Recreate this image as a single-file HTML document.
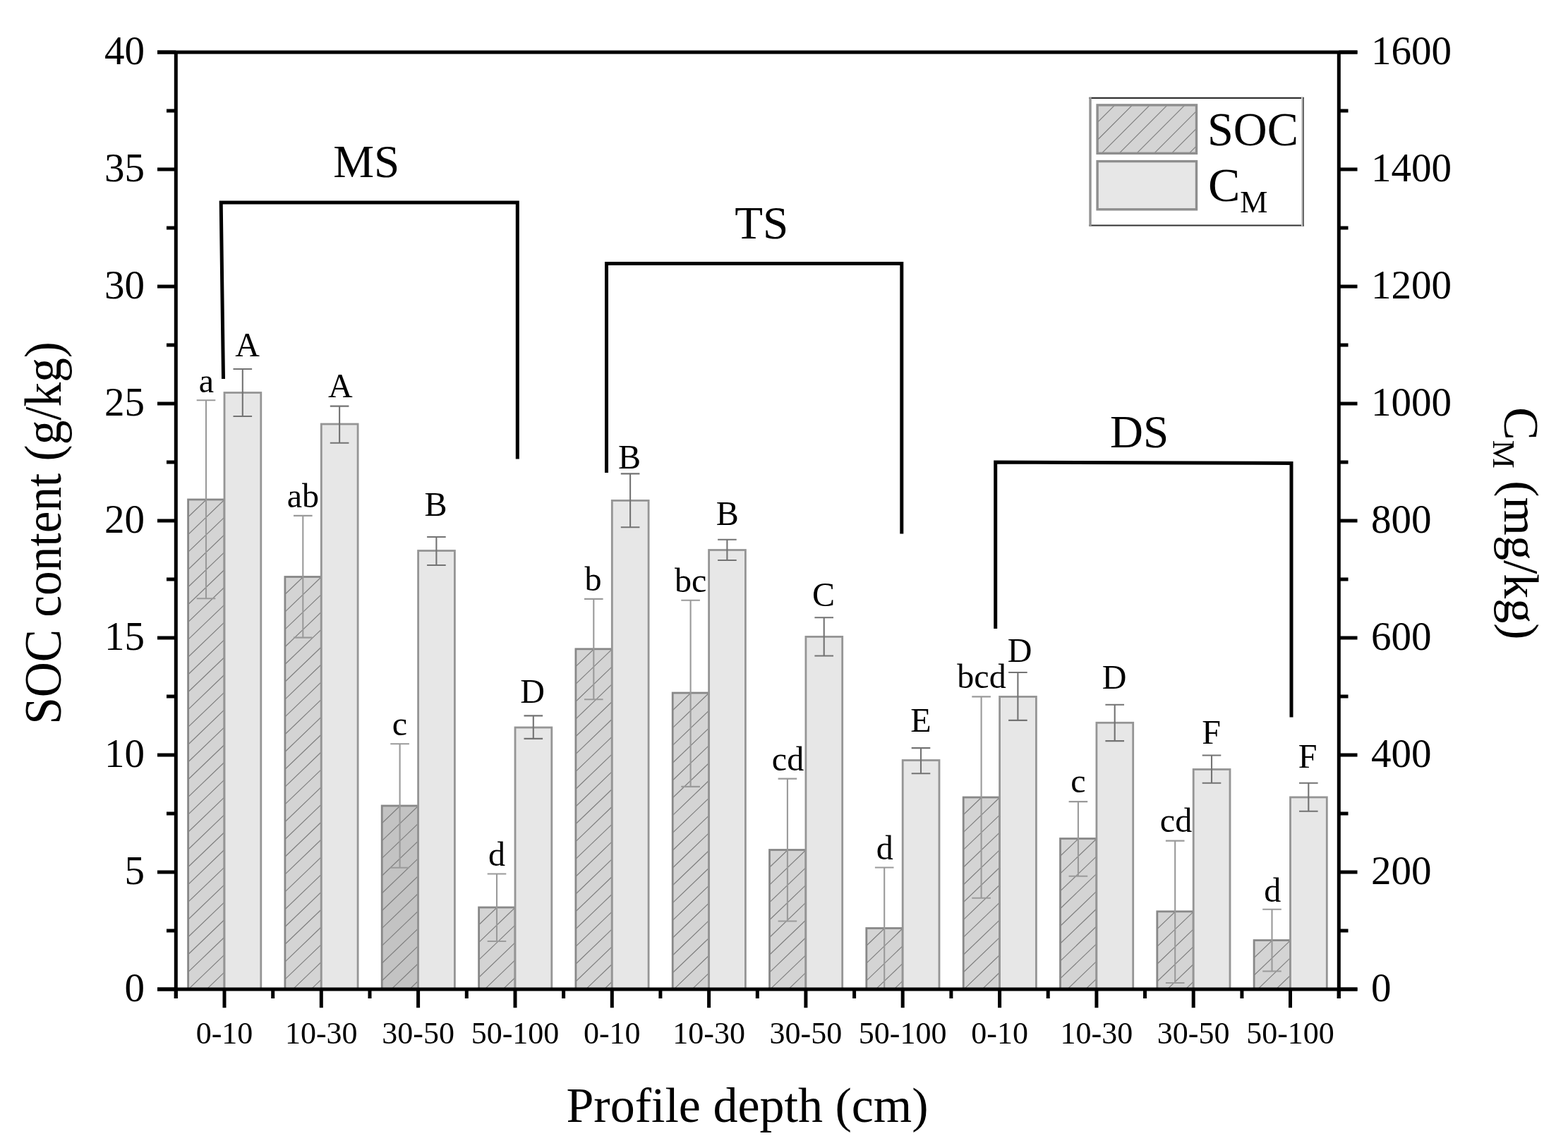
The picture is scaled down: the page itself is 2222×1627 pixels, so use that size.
<!DOCTYPE html>
<html lang="en"><head><meta charset="utf-8"><title>SOC content and CM by profile depth</title>
<style>
html,body{margin:0;padding:0;background:#fff;width:2222px;height:1627px;overflow:hidden;}
svg{display:block;}
text{font-family:"Liberation Serif", "Times New Roman", Times, serif;fill:#000;}
</style></head><body>
<svg width="2222" height="1627" viewBox="0 0 2222 1627">
<rect width="2222" height="1627" fill="#fff"/>
<rect x="266.6" y="708.0" width="51.4" height="694.1" fill="#d4d4d4"/>
<path d="M266.60 732.80L292.43 708.00M266.60 757.60L318.00 708.26M266.60 782.40L318.00 733.06M266.60 807.20L318.00 757.86M266.60 832.00L318.00 782.66M266.60 856.80L318.00 807.46M266.60 881.60L318.00 832.26M266.60 906.40L318.00 857.06M266.60 931.20L318.00 881.86M266.60 956.00L318.00 906.66M266.60 980.80L318.00 931.46M266.60 1005.60L318.00 956.26M266.60 1030.40L318.00 981.06M266.60 1055.20L318.00 1005.86M266.60 1080.00L318.00 1030.66M266.60 1104.80L318.00 1055.46M266.60 1129.60L318.00 1080.26M266.60 1154.40L318.00 1105.06M266.60 1179.20L318.00 1129.86M266.60 1204.00L318.00 1154.66M266.60 1228.80L318.00 1179.46M266.60 1253.60L318.00 1204.26M266.60 1278.40L318.00 1229.06M266.60 1303.20L318.00 1253.86M266.60 1328.00L318.00 1278.66M266.60 1352.80L318.00 1303.46M266.60 1377.60L318.00 1328.26M266.91 1402.10L318.00 1353.06M292.75 1402.10L318.00 1377.86" stroke="#7f7f7f" stroke-width="1.2" fill="none"/>
<rect x="266.6" y="708.0" width="51.4" height="694.1" fill="none" stroke="#888888" stroke-width="2.8"/>
<rect x="318.0" y="556.5" width="51.8" height="845.6" fill="#e7e7e7" stroke="#959595" stroke-width="2.8"/>
<rect x="403.9" y="817.5" width="51.4" height="584.6" fill="#d4d4d4"/>
<path d="M403.92 842.30L429.75 817.50M403.92 867.10L455.32 817.76M403.92 891.90L455.32 842.56M403.92 916.70L455.32 867.36M403.92 941.50L455.32 892.16M403.92 966.30L455.32 916.96M403.92 991.10L455.32 941.76M403.92 1015.90L455.32 966.56M403.92 1040.70L455.32 991.36M403.92 1065.50L455.32 1016.16M403.92 1090.30L455.32 1040.96M403.92 1115.10L455.32 1065.76M403.92 1139.90L455.32 1090.56M403.92 1164.70L455.32 1115.36M403.92 1189.50L455.32 1140.16M403.92 1214.30L455.32 1164.96M403.92 1239.10L455.32 1189.76M403.92 1263.90L455.32 1214.56M403.92 1288.70L455.32 1239.36M403.92 1313.50L455.32 1264.16M403.92 1338.30L455.32 1288.96M403.92 1363.10L455.32 1313.76M403.92 1387.90L455.32 1338.56M414.96 1402.10L455.32 1363.36M440.80 1402.10L455.32 1388.16" stroke="#7f7f7f" stroke-width="1.2" fill="none"/>
<rect x="403.9" y="817.5" width="51.4" height="584.6" fill="none" stroke="#888888" stroke-width="2.8"/>
<rect x="455.3" y="601.0" width="51.8" height="801.1" fill="#e7e7e7" stroke="#959595" stroke-width="2.8"/>
<rect x="541.2" y="1142.0" width="51.4" height="260.1" fill="#c3c3c3"/>
<path d="M541.24 1166.80L567.07 1142.00M541.24 1191.60L592.64 1142.26M541.24 1216.40L592.64 1167.06M541.24 1241.20L592.64 1191.86M541.24 1266.00L592.64 1216.66M541.24 1290.80L592.64 1241.46M541.24 1315.60L592.64 1266.26M541.24 1340.40L592.64 1291.06M541.24 1365.20L592.64 1315.86M541.24 1390.00L592.64 1340.66M554.47 1402.10L592.64 1365.46M580.30 1402.10L592.64 1390.26" stroke="#7f7f7f" stroke-width="1.2" fill="none"/>
<rect x="541.2" y="1142.0" width="51.4" height="260.1" fill="none" stroke="#888888" stroke-width="2.8"/>
<rect x="592.6" y="780.5" width="51.8" height="621.6" fill="#e7e7e7" stroke="#959595" stroke-width="2.8"/>
<rect x="678.6" y="1286.0" width="51.4" height="116.1" fill="#d4d4d4"/>
<path d="M678.56 1310.80L704.39 1286.00M678.56 1335.60L729.96 1286.26M678.56 1360.40L729.96 1311.06M678.56 1385.20L729.96 1335.86M686.79 1402.10L729.96 1360.66M712.62 1402.10L729.96 1385.46" stroke="#7f7f7f" stroke-width="1.2" fill="none"/>
<rect x="678.6" y="1286.0" width="51.4" height="116.1" fill="none" stroke="#888888" stroke-width="2.8"/>
<rect x="730.0" y="1031.0" width="51.8" height="371.1" fill="#e7e7e7" stroke="#959595" stroke-width="2.8"/>
<rect x="815.9" y="919.8" width="51.4" height="482.3" fill="#d4d4d4"/>
<path d="M815.88 944.60L841.71 919.80M815.88 969.40L867.28 920.06M815.88 994.20L867.28 944.86M815.88 1019.00L867.28 969.66M815.88 1043.80L867.28 994.46M815.88 1068.60L867.28 1019.26M815.88 1093.40L867.28 1044.06M815.88 1118.20L867.28 1068.86M815.88 1143.00L867.28 1093.66M815.88 1167.80L867.28 1118.46M815.88 1192.60L867.28 1143.26M815.88 1217.40L867.28 1168.06M815.88 1242.20L867.28 1192.86M815.88 1267.00L867.28 1217.66M815.88 1291.80L867.28 1242.46M815.88 1316.60L867.28 1267.26M815.88 1341.40L867.28 1292.06M815.88 1366.20L867.28 1316.86M815.88 1391.00L867.28 1341.66M830.15 1402.10L867.28 1366.46M855.98 1402.10L867.28 1391.26" stroke="#7f7f7f" stroke-width="1.2" fill="none"/>
<rect x="815.9" y="919.8" width="51.4" height="482.3" fill="none" stroke="#888888" stroke-width="2.8"/>
<rect x="867.3" y="709.4" width="51.8" height="692.7" fill="#e7e7e7" stroke="#959595" stroke-width="2.8"/>
<rect x="953.2" y="982.0" width="51.4" height="420.1" fill="#d4d4d4"/>
<path d="M953.20 1006.80L979.03 982.00M953.20 1031.60L1004.60 982.26M953.20 1056.40L1004.60 1007.06M953.20 1081.20L1004.60 1031.86M953.20 1106.00L1004.60 1056.66M953.20 1130.80L1004.60 1081.46M953.20 1155.60L1004.60 1106.26M953.20 1180.40L1004.60 1131.06M953.20 1205.20L1004.60 1155.86M953.20 1230.00L1004.60 1180.66M953.20 1254.80L1004.60 1205.46M953.20 1279.60L1004.60 1230.26M953.20 1304.40L1004.60 1255.06M953.20 1329.20L1004.60 1279.86M953.20 1354.00L1004.60 1304.66M953.20 1378.80L1004.60 1329.46M954.76 1402.10L1004.60 1354.26M980.60 1402.10L1004.60 1379.06" stroke="#7f7f7f" stroke-width="1.2" fill="none"/>
<rect x="953.2" y="982.0" width="51.4" height="420.1" fill="none" stroke="#888888" stroke-width="2.8"/>
<rect x="1004.6" y="779.5" width="51.8" height="622.6" fill="#e7e7e7" stroke="#959595" stroke-width="2.8"/>
<rect x="1090.5" y="1204.5" width="51.4" height="197.6" fill="#d4d4d4"/>
<path d="M1090.52 1229.30L1116.35 1204.50M1090.52 1254.10L1141.92 1204.76M1090.52 1278.90L1141.92 1229.56M1090.52 1303.70L1141.92 1254.36M1090.52 1328.50L1141.92 1279.16M1090.52 1353.30L1141.92 1303.96M1090.52 1378.10L1141.92 1328.76M1091.35 1402.10L1141.92 1353.56M1117.19 1402.10L1141.92 1378.36" stroke="#7f7f7f" stroke-width="1.2" fill="none"/>
<rect x="1090.5" y="1204.5" width="51.4" height="197.6" fill="none" stroke="#888888" stroke-width="2.8"/>
<rect x="1141.9" y="902.4" width="51.8" height="499.7" fill="#e7e7e7" stroke="#959595" stroke-width="2.8"/>
<rect x="1227.8" y="1315.5" width="51.4" height="86.6" fill="#d4d4d4"/>
<path d="M1227.84 1340.30L1253.67 1315.50M1227.84 1365.10L1279.24 1315.76M1227.84 1389.90L1279.24 1340.56M1240.97 1402.10L1279.24 1365.36M1266.80 1402.10L1279.24 1390.16" stroke="#7f7f7f" stroke-width="1.2" fill="none"/>
<rect x="1227.8" y="1315.5" width="51.4" height="86.6" fill="none" stroke="#888888" stroke-width="2.8"/>
<rect x="1279.2" y="1077.5" width="51.8" height="324.6" fill="#e7e7e7" stroke="#959595" stroke-width="2.8"/>
<rect x="1365.2" y="1130.0" width="51.4" height="272.1" fill="#d4d4d4"/>
<path d="M1365.16 1154.80L1390.99 1130.00M1365.16 1179.60L1416.56 1130.26M1365.16 1204.40L1416.56 1155.06M1365.16 1229.20L1416.56 1179.86M1365.16 1254.00L1416.56 1204.66M1365.16 1278.80L1416.56 1229.46M1365.16 1303.60L1416.56 1254.26M1365.16 1328.40L1416.56 1279.06M1365.16 1353.20L1416.56 1303.86M1365.16 1378.00L1416.56 1328.66M1365.89 1402.10L1416.56 1353.46M1391.72 1402.10L1416.56 1378.26" stroke="#7f7f7f" stroke-width="1.2" fill="none"/>
<rect x="1365.2" y="1130.0" width="51.4" height="272.1" fill="none" stroke="#888888" stroke-width="2.8"/>
<rect x="1416.6" y="987.4" width="51.8" height="414.7" fill="#e7e7e7" stroke="#959595" stroke-width="2.8"/>
<rect x="1502.5" y="1188.5" width="51.4" height="213.6" fill="#d4d4d4"/>
<path d="M1502.48 1213.30L1528.31 1188.50M1502.48 1238.10L1553.88 1188.76M1502.48 1262.90L1553.88 1213.56M1502.48 1287.70L1553.88 1238.36M1502.48 1312.50L1553.88 1263.16M1502.48 1337.30L1553.88 1287.96M1502.48 1362.10L1553.88 1312.76M1502.48 1386.90L1553.88 1337.56M1512.48 1402.10L1553.88 1362.36M1538.31 1402.10L1553.88 1387.16" stroke="#7f7f7f" stroke-width="1.2" fill="none"/>
<rect x="1502.5" y="1188.5" width="51.4" height="213.6" fill="none" stroke="#888888" stroke-width="2.8"/>
<rect x="1553.9" y="1024.3" width="51.8" height="377.8" fill="#e7e7e7" stroke="#959595" stroke-width="2.8"/>
<rect x="1639.8" y="1291.8" width="51.4" height="110.3" fill="#d4d4d4"/>
<path d="M1639.80 1316.60L1665.63 1291.80M1639.80 1341.40L1691.20 1292.06M1639.80 1366.20L1691.20 1316.86M1639.80 1391.00L1691.20 1341.66M1654.07 1402.10L1691.20 1366.46M1679.90 1402.10L1691.20 1391.26" stroke="#7f7f7f" stroke-width="1.2" fill="none"/>
<rect x="1639.8" y="1291.8" width="51.4" height="110.3" fill="none" stroke="#888888" stroke-width="2.8"/>
<rect x="1691.2" y="1090.4" width="51.8" height="311.7" fill="#e7e7e7" stroke="#959595" stroke-width="2.8"/>
<rect x="1777.1" y="1332.6" width="51.4" height="69.5" fill="#d4d4d4"/>
<path d="M1777.12 1357.40L1802.95 1332.60M1777.12 1382.20L1828.52 1332.86M1782.22 1402.10L1828.52 1357.66M1808.06 1402.10L1828.52 1382.46" stroke="#7f7f7f" stroke-width="1.2" fill="none"/>
<rect x="1777.1" y="1332.6" width="51.4" height="69.5" fill="none" stroke="#888888" stroke-width="2.8"/>
<rect x="1828.5" y="1129.9" width="51.8" height="272.2" fill="#e7e7e7" stroke="#959595" stroke-width="2.8"/>
<path d="M292.0 567.2V848.3M278.7 567.2H305.3M278.7 848.3H305.3" stroke="#9a9a9a" stroke-width="2.1" fill="none"/>
<path d="M343.8 523.0V590.0M330.5 523.0H357.1M330.5 590.0H357.1" stroke="#737373" stroke-width="2.1" fill="none"/>
<path d="M429.3 730.9V903.6M416.0 730.9H442.6M416.0 903.6H442.6" stroke="#9a9a9a" stroke-width="2.1" fill="none"/>
<path d="M481.1 575.6V627.8M467.8 575.6H494.4M467.8 627.8H494.4" stroke="#737373" stroke-width="2.1" fill="none"/>
<path d="M566.6 1054.2V1229.7M553.3 1054.2H579.9M553.3 1229.7H579.9" stroke="#9a9a9a" stroke-width="2.1" fill="none"/>
<path d="M618.4 761.0V801.0M605.1 761.0H631.7M605.1 801.0H631.7" stroke="#737373" stroke-width="2.1" fill="none"/>
<path d="M704.0 1238.5V1334.0M690.7 1238.5H717.3M690.7 1334.0H717.3" stroke="#9a9a9a" stroke-width="2.1" fill="none"/>
<path d="M755.8 1014.4V1046.9M742.5 1014.4H769.1M742.5 1046.9H769.1" stroke="#737373" stroke-width="2.1" fill="none"/>
<path d="M841.3 848.9V991.3M828.0 848.9H854.6M828.0 991.3H854.6" stroke="#9a9a9a" stroke-width="2.1" fill="none"/>
<path d="M893.1 671.4V747.3M879.8 671.4H906.4M879.8 747.3H906.4" stroke="#737373" stroke-width="2.1" fill="none"/>
<path d="M978.6 850.7V1114.9M965.3 850.7H991.9M965.3 1114.9H991.9" stroke="#9a9a9a" stroke-width="2.1" fill="none"/>
<path d="M1030.4 764.8V794.0M1017.1 764.8H1043.7M1017.1 794.0H1043.7" stroke="#737373" stroke-width="2.1" fill="none"/>
<path d="M1115.9 1103.6V1305.5M1102.6 1103.6H1129.2M1102.6 1305.5H1129.2" stroke="#9a9a9a" stroke-width="2.1" fill="none"/>
<path d="M1167.7 875.2V929.5M1154.4 875.2H1181.0M1154.4 929.5H1181.0" stroke="#737373" stroke-width="2.1" fill="none"/>
<path d="M1253.2 1229.5V1402.0M1239.9 1229.5H1266.5" stroke="#9a9a9a" stroke-width="2.1" fill="none"/>
<path d="M1305.0 1060.1V1096.3M1291.7 1060.1H1318.3M1291.7 1096.3H1318.3" stroke="#737373" stroke-width="2.1" fill="none"/>
<path d="M1390.6 987.4V1272.8M1377.3 987.4H1403.9M1377.3 1272.8H1403.9" stroke="#9a9a9a" stroke-width="2.1" fill="none"/>
<path d="M1442.4 953.0V1020.9M1429.1 953.0H1455.7M1429.1 1020.9H1455.7" stroke="#737373" stroke-width="2.1" fill="none"/>
<path d="M1527.9 1136.1V1241.8M1514.6 1136.1H1541.2M1514.6 1241.8H1541.2" stroke="#9a9a9a" stroke-width="2.1" fill="none"/>
<path d="M1579.7 998.7V1050.1M1566.4 998.7H1593.0M1566.4 1050.1H1593.0" stroke="#737373" stroke-width="2.1" fill="none"/>
<path d="M1665.2 1191.6V1393.0M1651.9 1191.6H1678.5M1651.9 1393.0H1678.5" stroke="#9a9a9a" stroke-width="2.1" fill="none"/>
<path d="M1717.0 1070.5V1109.7M1703.7 1070.5H1730.3M1703.7 1109.7H1730.3" stroke="#737373" stroke-width="2.1" fill="none"/>
<path d="M1802.5 1288.7V1376.5M1789.2 1288.7H1815.8M1789.2 1376.5H1815.8" stroke="#9a9a9a" stroke-width="2.1" fill="none"/>
<path d="M1854.3 1109.7V1149.8M1841.0 1109.7H1867.6M1841.0 1149.8H1867.6" stroke="#737373" stroke-width="2.1" fill="none"/>
<text x="292.3" y="556.0" font-size="48" text-anchor="middle">a</text>
<text x="350.6" y="504.8" font-size="48" text-anchor="middle">A</text>
<text x="429.3" y="719.0" font-size="48" text-anchor="middle">ab</text>
<text x="482.3" y="563.3" font-size="48" text-anchor="middle">A</text>
<text x="566.3" y="1041.6" font-size="48" text-anchor="middle">c</text>
<text x="617.6" y="730.6" font-size="48" text-anchor="middle">B</text>
<text x="704.0" y="1226.8" font-size="48" text-anchor="middle">d</text>
<text x="754.7" y="995.7" font-size="48" text-anchor="middle">D</text>
<text x="840.5" y="837.2" font-size="48" text-anchor="middle">b</text>
<text x="892.0" y="663.9" font-size="48" text-anchor="middle">B</text>
<text x="978.6" y="839.0" font-size="48" text-anchor="middle">bc</text>
<text x="1030.7" y="743.8" font-size="48" text-anchor="middle">B</text>
<text x="1116.5" y="1091.5" font-size="48" text-anchor="middle">cd</text>
<text x="1167.0" y="858.5" font-size="48" text-anchor="middle">C</text>
<text x="1253.8" y="1218.3" font-size="48" text-anchor="middle">d</text>
<text x="1305.0" y="1036.5" font-size="48" text-anchor="middle">E</text>
<text x="1391.0" y="974.6" font-size="48" text-anchor="middle">bcd</text>
<text x="1445.0" y="937.8" font-size="48" text-anchor="middle">D</text>
<text x="1528.0" y="1123.4" font-size="48" text-anchor="middle">c</text>
<text x="1579.2" y="975.9" font-size="48" text-anchor="middle">D</text>
<text x="1666.5" y="1178.7" font-size="48" text-anchor="middle">cd</text>
<text x="1716.5" y="1054.2" font-size="48" text-anchor="middle">F</text>
<text x="1803.3" y="1277.6" font-size="48" text-anchor="middle">d</text>
<text x="1853.0" y="1087.8" font-size="48" text-anchor="middle">F</text>
<path d="M249.3 74.0V1415M1897.3 74.0V1415M223 74.0H1923.5M223 1402.1H1923.5" stroke="#000" stroke-width="5.0" fill="none"/>
<path d="M223 1402.1H249.3M1897.3 1402.1H1923.5M236 1319.1H249.3M1897.3 1319.1H1910.5M223 1236.1H249.3M1897.3 1236.1H1923.5M236 1153.1H249.3M1897.3 1153.1H1910.5M223 1070.1H249.3M1897.3 1070.1H1923.5M236 987.1H249.3M1897.3 987.1H1910.5M223 904.1H249.3M1897.3 904.1H1923.5M236 821.1H249.3M1897.3 821.1H1910.5M223 738.0H249.3M1897.3 738.0H1923.5M236 655.0H249.3M1897.3 655.0H1910.5M223 572.0H249.3M1897.3 572.0H1923.5M236 489.0H249.3M1897.3 489.0H1910.5M223 406.0H249.3M1897.3 406.0H1923.5M236 323.0H249.3M1897.3 323.0H1910.5M223 240.0H249.3M1897.3 240.0H1923.5M236 157.0H249.3M1897.3 157.0H1910.5M223 74.0H249.3M1897.3 74.0H1923.5M318.0 1402.1V1428.3M455.3 1402.1V1428.3M592.6 1402.1V1428.3M730.0 1402.1V1428.3M867.3 1402.1V1428.3M1004.6 1402.1V1428.3M1141.9 1402.1V1428.3M1279.2 1402.1V1428.3M1416.6 1402.1V1428.3M1553.9 1402.1V1428.3M1691.2 1402.1V1428.3M1828.5 1402.1V1428.3M249.3 1402.1V1415M386.7 1402.1V1415M524.0 1402.1V1415M661.3 1402.1V1415M798.6 1402.1V1415M935.9 1402.1V1415M1073.3 1402.1V1415M1210.6 1402.1V1415M1347.9 1402.1V1415M1485.2 1402.1V1415M1622.5 1402.1V1415M1759.9 1402.1V1415M1897.2 1402.1V1415" stroke="#000" stroke-width="5.0" fill="none"/>
<text x="205" y="1418.6" font-size="57" text-anchor="end">0</text>
<text x="1943" y="1419.1" font-size="57">0</text>
<text x="205" y="1252.6" font-size="57" text-anchor="end">5</text>
<text x="1943" y="1253.1" font-size="57">200</text>
<text x="205" y="1086.6" font-size="57" text-anchor="end">10</text>
<text x="1943" y="1087.1" font-size="57">400</text>
<text x="205" y="920.6" font-size="57" text-anchor="end">15</text>
<text x="1943" y="921.1" font-size="57">600</text>
<text x="205" y="754.5" font-size="57" text-anchor="end">20</text>
<text x="1943" y="755.0" font-size="57">800</text>
<text x="205" y="588.5" font-size="57" text-anchor="end">25</text>
<text x="1943" y="589.0" font-size="57">1000</text>
<text x="205" y="422.5" font-size="57" text-anchor="end">30</text>
<text x="1943" y="423.0" font-size="57">1200</text>
<text x="205" y="256.5" font-size="57" text-anchor="end">35</text>
<text x="1943" y="257.0" font-size="57">1400</text>
<text x="205" y="90.5" font-size="57" text-anchor="end">40</text>
<text x="1943" y="91.0" font-size="57">1600</text>
<text x="318.0" y="1479.3" font-size="44" text-anchor="middle">0-10</text>
<text x="455.3" y="1479.3" font-size="44" text-anchor="middle">10-30</text>
<text x="592.6" y="1479.3" font-size="44" text-anchor="middle">30-50</text>
<text x="730.0" y="1479.3" font-size="44" text-anchor="middle">50-100</text>
<text x="867.3" y="1479.3" font-size="44" text-anchor="middle">0-10</text>
<text x="1004.6" y="1479.3" font-size="44" text-anchor="middle">10-30</text>
<text x="1141.9" y="1479.3" font-size="44" text-anchor="middle">30-50</text>
<text x="1279.2" y="1479.3" font-size="44" text-anchor="middle">50-100</text>
<text x="1416.6" y="1479.3" font-size="44" text-anchor="middle">0-10</text>
<text x="1553.9" y="1479.3" font-size="44" text-anchor="middle">10-30</text>
<text x="1691.2" y="1479.3" font-size="44" text-anchor="middle">30-50</text>
<text x="1828.5" y="1479.3" font-size="44" text-anchor="middle">50-100</text>
<path d="M316.5 537L313.2 287H733.3V650.5" stroke="#000" stroke-width="5.0" fill="none" stroke-linejoin="miter"/>
<path d="M859.5 670V373.4H1277.8V756.5" stroke="#000" stroke-width="5.0" fill="none" stroke-linejoin="miter"/>
<path d="M1410.7 891V655L1830 656.5V1016.5" stroke="#000" stroke-width="5.0" fill="none" stroke-linejoin="miter"/>
<text x="519.3" y="251" font-size="65" text-anchor="middle">MS</text>
<text x="1079.2" y="338" font-size="65" text-anchor="middle">TS</text>
<text x="1614.5" y="634.2" font-size="65" text-anchor="middle">DS</text>
<rect x="1544" y="139" width="303" height="181" fill="#fff"/>
<path d="M1543.3 138.8H1847.9M1543.3 319.5H1847.9" stroke="#333" stroke-width="2.2" fill="none"/>
<path d="M1545 138V320.5" stroke="#939393" stroke-width="3.4" fill="none"/>
<path d="M1845 138V320.5" stroke="#cccccc" stroke-width="2" fill="none"/>
<path d="M1846.9 138V320.5" stroke="#606060" stroke-width="2" fill="none"/>
<rect x="1555.1" y="148.9" width="140.4" height="68.4" fill="#d4d4d4"/>
<path d="M1555.10 173.70L1579.90 148.90M1555.10 198.50L1604.70 148.90M1561.10 217.30L1629.50 148.90M1585.90 217.30L1654.30 148.90M1610.70 217.30L1679.10 148.90M1635.50 217.30L1695.50 157.30M1660.30 217.30L1695.50 182.10M1685.10 217.30L1695.50 206.90" stroke="#7f7f7f" stroke-width="1.2" fill="none"/>
<rect x="1555.1" y="148.9" width="140.4" height="68.4" fill="none" stroke="#8e8e8e" stroke-width="3.4"/>
<rect x="1555.1" y="228.6" width="140.4" height="68.2" fill="#e7e7e7" stroke="#8e8e8e" stroke-width="3.4"/>
<text transform="translate(1711 205.5) scale(0.975 1)" font-size="68">SOC</text>
<text x="1712" y="284.5" font-size="68">C<tspan font-size="44" dy="16">M</tspan></text>
<text transform="translate(86 755.4) rotate(-90) scale(0.924 1)" font-size="75" text-anchor="middle">SOC content (g/kg)</text>
<text transform="translate(2132 741.8) rotate(90)" font-size="70" text-anchor="middle">C<tspan font-size="45" dy="16.5">M</tspan><tspan dy="-16.5"> (mg/kg)</tspan></text>
<text x="1059" y="1590" font-size="70" text-anchor="middle">Profile depth (cm)</text>
</svg>
</body></html>
